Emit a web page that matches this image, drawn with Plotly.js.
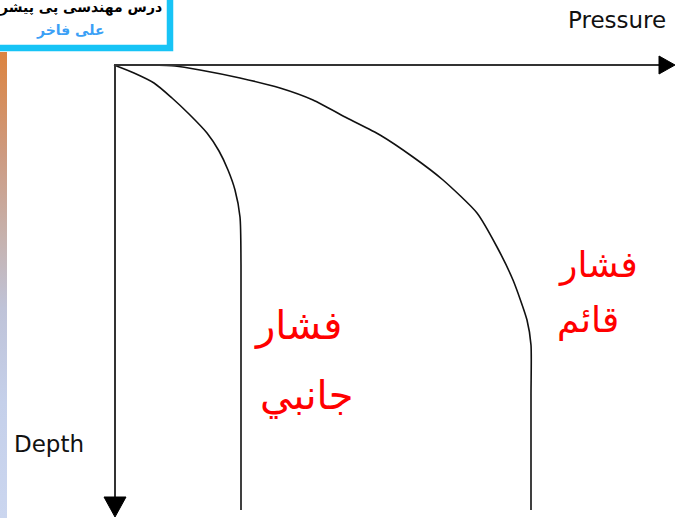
<!DOCTYPE html>
<html>
<head>
<meta charset="utf-8">
<script src="https://cdn.plot.ly/plotly-3.0.1.min.js"></script>
<style>
  html, body { margin: 0; padding: 0; background: #ffffff; }
  #wrap { position: relative; width: 676px; height: 518px; overflow: hidden; }
  #strip { position: absolute; left: 0; top: 52px; width: 7px; height: 466px;
    background: linear-gradient(#dc8440 0%, #cd9a80 22%, #c6b2ae 40%, #bfc3d8 55%, #c5d0ea 75%, #cbd6ef 100%); }
  #chart { position: absolute; left: 0; top: 0; width: 676px; height: 518px; }
</style>
</head>
<body>
<div id="wrap">
  <div id="strip"></div>
  <div id="chart"></div>
</div>
<script>
// Lateral pressure curve (pressure, depth)
const lateralPressure = [0, 20, 40, 58, 75, 93, 105, 114, 121, 126, 127, 127];
const lateralDepth    = [0, 8, 18, 33, 49, 68, 86, 105, 125, 152, 200, 445];
// Vertical pressure curve
const verticalPressure = [36, 61, 86, 126, 166, 199, 233, 266, 299, 329, 363, 383, 399, 413, 417, 417, 417];
const verticalDepth    = [0, 1, 5, 13, 23, 35, 53, 70, 92, 115, 148, 182, 215, 255, 280, 330, 445];

const axisLabels = { x: 'Pressure', y: 'Depth' };
const curveLabels = { lateral: ['فشار', 'جانبي'], vertical: ['فشار', 'قائم'] };
const titleLines = ['درس مهندسی پی پیشر', 'علی فاخر'];

const W = 676, H = 518;
const X0 = -114, X1 = 562, Y0 = -65, Y1 = 453;
const px = v => v / W;
const py = v => 1 - v / H;

const traces = [
  { x: lateralPressure, y: lateralDepth, mode: 'lines', type: 'scatter',
    line: { color: '#111111', width: 1.6, shape: 'spline', smoothing: 0.7 }, hoverinfo: 'skip' },
  { x: verticalPressure, y: verticalDepth, mode: 'lines', type: 'scatter',
    line: { color: '#111111', width: 1.6, shape: 'spline', smoothing: 0.6 }, hoverinfo: 'skip' }
];

const xAxisEnd = 545, yAxisEnd = 436;
const shapes = [
  // pressure axis
  { type: 'line', xref: 'x', yref: 'y', x0: 0, y0: 0, x1: xAxisEnd, y1: 0, line: { color: '#333333', width: 2 } },
  { type: 'path', xref: 'x', yref: 'y', path: `M ${xAxisEnd} -9 L ${X1 - 1} 0 L ${xAxisEnd} 9 Z`, fillcolor: '#000000', line: { color: '#000000', width: 1 } },
  // depth axis
  { type: 'line', xref: 'x', yref: 'y', x0: 1, y0: 0, x1: 1, y1: yAxisEnd, line: { color: '#333333', width: 2 } },
  { type: 'path', xref: 'x', yref: 'y', path: `M -10 ${yAxisEnd - 4} L 1 ${Y1 - 1} L 12 ${yAxisEnd - 4} Z`, fillcolor: '#000000', line: { color: '#000000', width: 1 } },
  // title box
  { type: 'rect', xref: 'paper', yref: 'paper', x0: px(-20), x1: px(170), y0: py(-20), y1: py(48),
    fillcolor: '#ffffff', line: { color: '#17c4f6', width: 6.5 }, layer: 'below' }
];

const ar = 'DejaVu Sans, sans-serif';
const annotations = [
  { text: axisLabels.x, xref: 'paper', yref: 'paper', x: px(566), y: py(20), xanchor: 'left', yanchor: 'middle',
    showarrow: false, font: { family: 'DejaVu Sans, Arial, sans-serif', size: 23, color: '#111111' } },
  { text: axisLabels.y, xref: 'paper', yref: 'paper', x: px(12), y: py(444), xanchor: 'left', yanchor: 'middle',
    showarrow: false, font: { family: 'DejaVu Sans, Arial, sans-serif', size: 23, color: '#111111' } },
  { text: curveLabels.vertical[0], xref: 'paper', yref: 'paper', x: px(598), y: py(265), xanchor: 'center', yanchor: 'middle',
    showarrow: false, font: { family: ar, size: 36, color: '#ff0000' } },
  { text: curveLabels.vertical[1], xref: 'paper', yref: 'paper', x: px(588), y: py(320), xanchor: 'center', yanchor: 'middle',
    showarrow: false, font: { family: ar, size: 36, color: '#ff0000' } },
  { text: curveLabels.lateral[0], xref: 'paper', yref: 'paper', x: px(298), y: py(325), xanchor: 'center', yanchor: 'middle',
    showarrow: false, font: { family: ar, size: 40, color: '#ff0000' } },
  { text: curveLabels.lateral[1], xref: 'paper', yref: 'paper', x: px(306), y: py(395), xanchor: 'center', yanchor: 'middle',
    showarrow: false, font: { family: ar, size: 40, color: '#ff0000' } },
  { text: '<b>' + titleLines[0] + '</b>', xref: 'paper', yref: 'paper', x: px(80), y: py(8), xanchor: 'center', yanchor: 'middle',
    showarrow: false, font: { family: ar, size: 14, color: '#000000' } },
  { text: '<b>' + titleLines[1] + '</b>', xref: 'paper', yref: 'paper', x: px(70), y: py(31), xanchor: 'center', yanchor: 'middle',
    showarrow: false, font: { family: ar, size: 14, color: '#3aa0f6' } }
];

const layout = {
  width: W, height: H,
  margin: { l: 0, r: 0, t: 0, b: 0 },
  paper_bgcolor: 'rgba(0,0,0,0)', plot_bgcolor: 'rgba(0,0,0,0)',
  showlegend: false,
  xaxis: { range: [X0, X1], visible: false, fixedrange: true },
  yaxis: { range: [Y1, Y0], visible: false, fixedrange: true },
  shapes: shapes,
  annotations: annotations
};

Plotly.newPlot('chart', traces, layout, { staticPlot: true, displayModeBar: false });
</script>
</body>
</html>
